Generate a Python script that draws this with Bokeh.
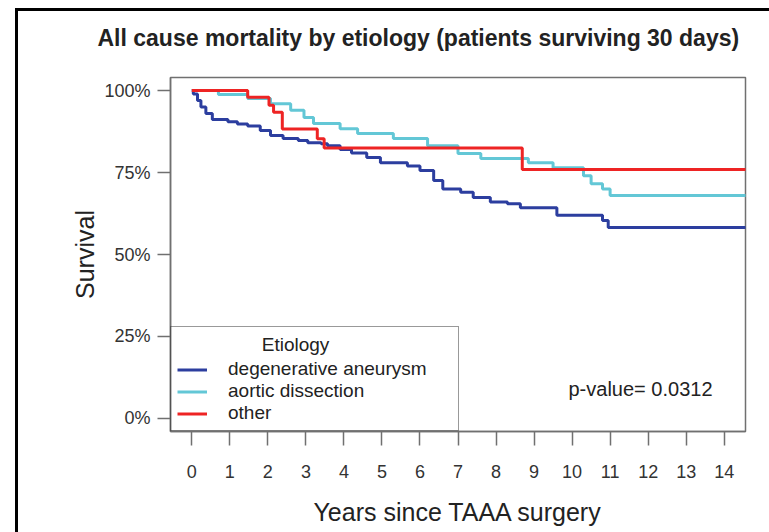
from bokeh.plotting import figure
from bokeh.models import Range1d, FixedTicker, NumeralTickFormatter, Legend, LegendItem, Label
from bokeh.embed import file_html
from bokeh.resources import INLINE

# ---- data ----
years_degen = [0, 0.04, 0.15, 0.24, 0.37, 0.54, 0.95, 1.2, 1.47, 1.8, 2.07, 2.4, 2.8, 3.05, 3.4, 3.57,
               3.9, 4.2, 4.6, 4.96, 5.67, 6.0, 6.36, 6.6, 7.07, 7.4, 7.85, 8.3, 8.64, 9.6, 10.8, 10.95, 14.6]
surv_degen = [1.0, 0.99, 0.97, 0.95, 0.93, 0.912, 0.905, 0.898, 0.892, 0.878, 0.863, 0.854, 0.848, 0.841,
              0.838, 0.832, 0.82, 0.81, 0.796, 0.78, 0.77, 0.756, 0.726, 0.70, 0.69, 0.674, 0.66, 0.655,
              0.643, 0.62, 0.604, 0.582, 0.582]

years_dissect = [0, 0.7, 1.47, 2.07, 2.6, 2.95, 3.2, 3.9, 4.36, 5.3, 6.2, 7.0, 7.6, 8.85, 9.5,
                 10.3, 10.5, 10.8, 11.0, 14.6]
surv_dissect = [1.0, 0.988, 0.976, 0.96, 0.94, 0.918, 0.90, 0.884, 0.869, 0.854, 0.832, 0.808, 0.793,
                0.78, 0.765, 0.74, 0.716, 0.70, 0.68, 0.68]

years_other = [0, 1.47, 2.03, 2.15, 2.38, 3.3, 3.48, 8.69, 14.6]
surv_other = [1.0, 0.98, 0.955, 0.934, 0.883, 0.853, 0.825, 0.759, 0.759]

series_names = ["degenerative aneurysm", "aortic dissection", "other"]
series_colors = ["#2c3e9f", "#63c7d6", "#ee2424"]
x_ticks = list(range(0, 15))
y_ticks = [0, 0.25, 0.5, 0.75, 1.0]

title_text = "All cause mortality by etiology (patients surviving 30 days)"
x_label = "Years since TAAA surgery"
y_label = "Survival"
legend_title = "Etiology"
pvalue_text = "p-value= 0.0312"

FONT = "Liberation Sans"

p = figure(width=769, height=532,
           x_range=Range1d(-0.56, 14.56), y_range=Range1d(-0.04, 1.04),
           output_backend="svg", toolbar_location=None,
           min_border_left=170, min_border_right=24, min_border_top=76, min_border_bottom=101)

# black frame of the original screenshot (top and left edges), behind a transparent border area
p.styles = {"background": "linear-gradient(#000,#000) 15px 8px / 3px 100% no-repeat, "
                          "linear-gradient(#000,#000) 15px 8px / 100% 3px no-repeat, #ffffff"}
p.border_fill_alpha = 0.0
p.background_fill_color = "white"

p.grid.visible = False
p.outline_line_color = "#707070"
p.outline_line_width = 1.5

renderers = []
for xs, ys, c in [(years_degen, surv_degen, series_colors[0]),
                  (years_dissect, surv_dissect, series_colors[1]),
                  (years_other, surv_other, series_colors[2])]:
    r = p.step(xs, ys, mode="after", line_color=c, line_width=3)
    renderers.append(r)

# title
p.title.text = title_text
p.title.text_font = FONT
p.title.text_font_size = "23px"
p.title.text_font_style = "bold"
p.title.text_color = "#222222"
p.title.align = "left"
p.title.offset = -73
p.title.vertical_align = "top"
p.title.standoff = 49

# axes (R style)
for ax in (p.xaxis[0], p.yaxis[0]):
    ax.axis_line_color = "#707070"
    ax.axis_line_width = 1.5
    ax.major_tick_line_color = "#707070"
    ax.major_tick_line_width = 1.5
    ax.minor_tick_line_color = None
    ax.major_tick_in = 0
    ax.major_label_text_font = FONT
    ax.major_label_text_font_size = "18px"
    ax.major_label_text_color = "#333333"
    ax.axis_label_text_font = FONT
    ax.axis_label_text_font_style = "normal"
    ax.axis_label_text_color = "#222222"

p.xaxis.ticker = FixedTicker(ticks=x_ticks)
p.xaxis.major_tick_out = 14
p.xaxis.major_label_standoff = 19
p.xaxis.axis_label = x_label
p.xaxis.axis_label_text_font_size = "25px"
p.xaxis.axis_label_standoff = 17

p.yaxis.ticker = FixedTicker(ticks=y_ticks)
p.yaxis.formatter = NumeralTickFormatter(format="0%")
p.yaxis.major_tick_out = 13
p.yaxis.major_label_standoff = 7
p.yaxis.major_label_orientation = "horizontal"
p.yaxis.axis_label = y_label
p.yaxis.axis_label_text_font_size = "25px"
p.yaxis.axis_label_standoff = 2

# legend (its title row is reserved by a blank title; the visible heading is centred over it)
items = [LegendItem(label=n, renderers=[r]) for n, r in zip(series_names, renderers)]
legend = Legend(items=items, location="bottom_left", margin=0, padding=6,
                title=" ", title_text_font=FONT, title_text_font_size="16px", title_standoff=7,
                label_text_font=FONT, label_text_font_size="19px", label_text_color="#222222",
                glyph_width=30, glyph_height=17, label_height=17, label_standoff=21,
                label_width=224, spacing=0,
                border_line_color="#333333", border_line_width=1.5,
                background_fill_color="white", background_fill_alpha=0.0)
p.add_layout(legend, "center")

# legend heading and p-value annotation (screen units, relative to the plot frame)
p.add_layout(Label(x=125, y=87, x_units="screen", y_units="screen", text=legend_title,
                   text_font=FONT, text_font_size="19px", text_color="#222222",
                   text_align="center", text_baseline="middle", level="overlay"))
p.add_layout(Label(x=470, y=43, x_units="screen", y_units="screen", text=pvalue_text,
                   text_font=FONT, text_font_size="20px", text_color="#222222",
                   text_align="center", text_baseline="middle", level="overlay"))

open("out.html", "w").write(file_html(p, INLINE))
